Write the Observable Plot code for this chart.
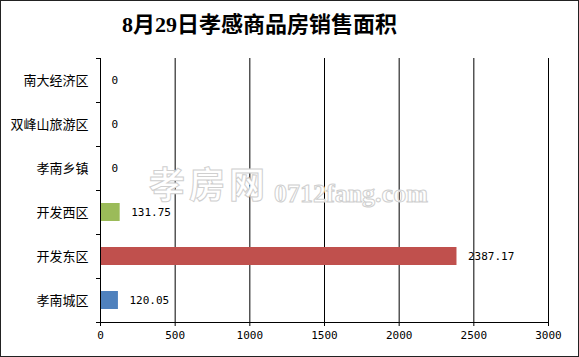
<!DOCTYPE html>
<html>
<head>
<meta charset="utf-8">
<script src="https://cdn.jsdelivr.net/npm/d3@7"></script>
<script src="https://cdn.jsdelivr.net/npm/@observablehq/plot@0.6"></script>
<style>
  html, body { margin: 0; padding: 0; background: #fff; }
  #wrap { position: relative; width: 579px; height: 357px; overflow: hidden; background: #fff; }
  #titlebar { height: 50px; position: relative; }
  #title { position: absolute; left: 122px; top: 0; height: 50px; line-height: 50px; white-space: nowrap; font-family: "Liberation Serif", "Noto Sans CJK SC", serif; font-weight: 700; font-size: 22px; color: #000; }
  #frame { position: absolute; left: 0; top: 0; width: 577px; height: 355px; border: 1px solid #222; pointer-events: none; }
  .wm { position: absolute; color: #fff; -webkit-text-stroke: 1px #cfcfcf; white-space: nowrap; pointer-events: none; }
  #wm1 { left: 149px; top: 168px; font-family: "Noto Sans CJK SC", sans-serif; font-weight: 700; font-size: 36px; letter-spacing: 4px; line-height: 28px; }
  #wm2 { left: 274px; top: 184px; font-family: "Liberation Serif", serif; font-weight: 700; font-size: 26px; line-height: 20px; }
  #chart svg { display: block; }
</style>
</head>
<body>
<div id="wrap">
  <div id="titlebar"><div id="title">8月29日孝感商品房销售面积</div></div>
  <div id="chart"></div>
  <div class="wm" id="wm1">孝房网</div>
  <div class="wm" id="wm2">0712fang.com</div>
  <div id="frame"></div>
</div>
<script>
const categories = ["南大经济区", "双峰山旅游区", "孝南乡镇", "开发西区", "开发东区", "孝南城区"];
const values = [0, 0, 0, 131.75, 2387.17, 120.05];
const colors = ["#F79646", "#4BACC6", "#8064A2", "#9BBB59", "#C0504D", "#4F81BD"];
const xTicks = [0, 500, 1000, 1500, 2000, 2500, 3000];

const data = categories.map((name, i) => ({name, value: values[i], color: colors[i]}));

const W = 579, H = 307, mT = 8, mB = 35, mL = 100, mR = 31;
const band = (H - mT - mB) / categories.length;
const mono = "DejaVu Sans Mono, monospace";
const cjk = "Noto Sans CJK SC, sans-serif";

const chart = Plot.plot({
  width: W,
  height: H,
  marginTop: mT,
  marginBottom: mB,
  marginLeft: mL,
  marginRight: mR,
  style: {background: "#fff", color: "#000", overflow: "visible"},
  x: {domain: [0, 3000]},
  y: {type: "band", domain: categories, padding: 0},
  marks: [
    Plot.gridX(xTicks, {stroke: "#000", strokeOpacity: 1}),
    Plot.barX(data, {x: "value", y: "name", fill: "color", insetTop: 13, insetBottom: 13}),
    Plot.ruleX([0], {stroke: "#000"}),
    Plot.ruleY([categories[categories.length - 1]], {dy: band / 2, stroke: "#000"}),
    Plot.axisY({tickSize: 0, tickPadding: 12, label: null, fontSize: 13, fontFamily: cjk, fill: "#000"}),
    Plot.axisY({tickSize: 4, tickFormat: () => "", label: null, dy: band / 2, stroke: "#000"}),
    Plot.axisY({ticks: [categories[0]], tickSize: 4, tickFormat: () => "", label: null, dy: -band / 2, stroke: "#000"}),
    Plot.axisX({ticks: xTicks, tickFormat: d => String(d), tickSize: 4, tickPadding: 5, label: null, fontSize: 11, fontFamily: mono, fill: "#000", stroke: "#000"}),
    Plot.text(data, {x: "value", y: "name", text: d => String(d.value), textAnchor: "start", dx: 11, fontSize: 11, fontFamily: mono, fill: "#000"})
  ]
});
document.getElementById("chart").appendChild(chart);
</script>
</body>
</html>
